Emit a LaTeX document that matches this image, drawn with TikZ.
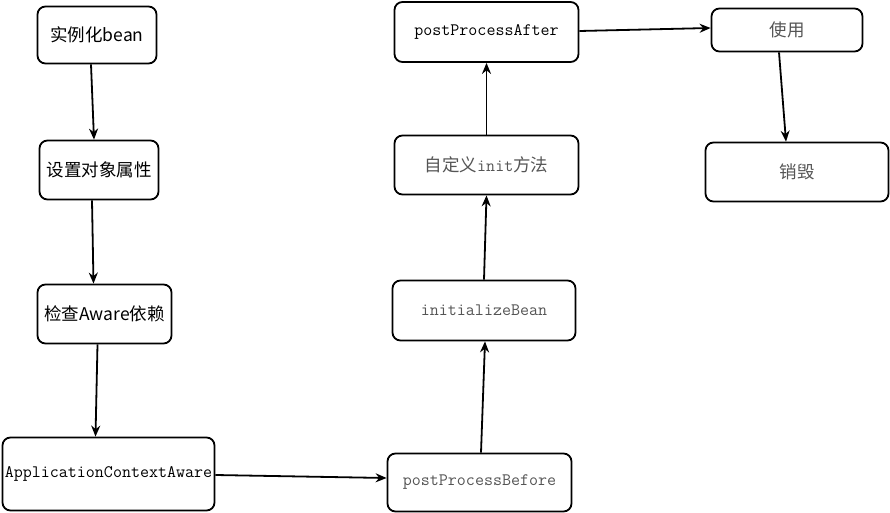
\documentclass[tikz,border=0pt]{standalone}
\usepackage{fontspec}
\newfontfamily\cjk{Noto Sans CJK SC}
\usetikzlibrary{arrows.meta}
\definecolor{textgray}{RGB}{85,85,85}

\begin{document}
\begin{tikzpicture}
	[x=1pt,y=-1pt,
	 main node/.style={shape=rectangle,draw,line width=1.8pt,rounded corners=8pt,fill=white,inner sep=2pt,font=\fontsize{17.5}{20}\selectfont},
	 flow/.style={line width=1.8pt,-{Stealth[length=11pt,width=9pt]}}]
	\useasboundingbox (0,0) rectangle (890,513);
	
	% left column
	\node [main node,minimum width=119pt,minimum height=57pt] (1) at (97,35) {\cjk 实例化bean};
	\node [main node,minimum width=119pt,minimum height=59pt] (2) at (99,170) {\cjk 设置对象属性};
	\node [main node,minimum width=134pt,minimum height=59pt] (3) at (104.5,314) {\cjk 检查Aware依赖};
	\node [main node,minimum width=212pt,minimum height=73pt] (4) at (108.5,474) {\ttfamily ApplicationContextAware};
	
	% middle column
	\node [main node,minimum width=184pt,minimum height=58pt,text=textgray] (5) at (479.5,482.5) {\ttfamily postProcessBefore};
	\node [main node,minimum width=183pt,minimum height=60pt,text=textgray] (6) at (484,310.5) {\ttfamily initializeBean};
	\node [main node,minimum width=184pt,minimum height=59pt,text=textgray] (7) at (486.5,165) {{\cjk 自定义}{\ttfamily init}{\cjk 方法}};
	\node [main node,minimum width=184pt,minimum height=60pt] (8) at (486.5,32) {\ttfamily postProcessAfter};
	
	% right column
	\node [main node,minimum width=151pt,minimum height=43pt,text=textgray] (9) at (787,30) {\cjk 使用};
	\node [main node,minimum width=183pt,minimum height=59pt,text=textgray] (10) at (797,172) {\cjk 销毁};
	
	\path[flow]
	([xshift=-6pt]1.south) edge ([xshift=-5pt]2.north)
	([xshift=-7pt]2.south) edge ([xshift=-11pt]3.north)
	([xshift=-7pt]3.south) edge ([xshift=-13pt]4.north)
	([yshift=-1pt]4.east) edge ([yshift=4.5pt]5.west)
	([xshift=1.5pt]5.north) edge ([xshift=1pt]6.south)
	(6.north) edge (7.south)
	(7.north) edge (8.south)
	([yshift=1pt]8.east) edge ([yshift=2pt]9.west)
	([xshift=-8pt]9.south) edge ([xshift=-11pt]10.north)
	;
	
\end{tikzpicture}
\end{document}
